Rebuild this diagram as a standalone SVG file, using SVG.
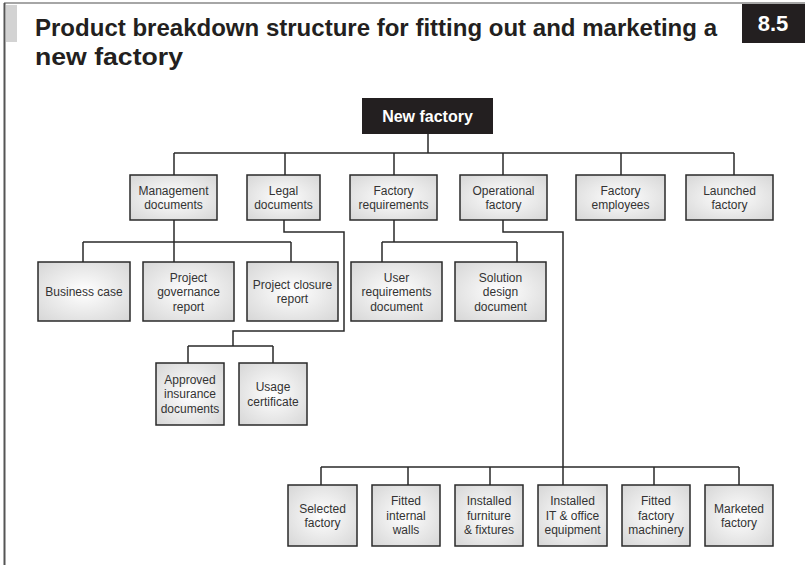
<svg xmlns="http://www.w3.org/2000/svg" width="805" height="565" viewBox="0 0 805 565">
<defs>
<radialGradient id="g" cx="50%" cy="50%" r="70%">
<stop offset="0" stop-color="#ffffff"/>
<stop offset="1" stop-color="#d6d6d6"/>
</radialGradient>
</defs>
<style>
.box{fill:url(#g);stroke:#2a2a2a;stroke-width:1.5}
.lbl{font-family:"Liberation Sans",Arial,sans-serif;font-size:12px;fill:#333;text-anchor:middle}
.con{fill:none;stroke:#2a2a2a;stroke-width:1.5}
.title{font-family:"Liberation Sans",Arial,sans-serif;font-weight:bold;font-size:24px;fill:#231f20}
</style>
<rect x="0" y="0" width="805" height="565" fill="#fff"/>
<line x1="4" y1="3" x2="805" y2="3" stroke="#888" stroke-width="1.5"/>
<line x1="4.5" y1="3" x2="4.5" y2="565" stroke="#555" stroke-width="2"/>
<rect x="6" y="5" width="11" height="37" fill="#d3d3d3"/>
<g id="title">
<text class="title" x="35" y="36" textLength="682" lengthAdjust="spacingAndGlyphs">Product breakdown structure for fitting out and marketing a</text>
<text class="title" x="35" y="65" textLength="148" lengthAdjust="spacingAndGlyphs">new factory</text>
</g>
<g id="badge">
<rect x="742" y="4" width="63" height="39" fill="#231f20"/>
<text x="773" y="31" font-family="Liberation Sans,Arial,sans-serif" font-weight="bold" font-size="22" fill="#fff" text-anchor="middle">8.5</text>
</g>
<g id="connectors">
<path class="con" d="M428 134V153M174 153H734M174 153V175M285 153V175M394 153V175M503 153V175M621 153V175M734 153V175"/>
<path class="con" d="M83 242H291M174 220V262M83 242V262M291 242V262"/>
<path class="con" d="M382 242H517M394 220V242M382 242V262M517 242V262"/>
<path class="con" d="M284 220V232H344V331H233V346M188 346H273M188 346V363M273 346V363"/>
<path class="con" d="M503 220V232H563V485M321 467H739M321 467V485M408 467V485M490 467V485M654 467V485M739 467V485"/>
</g>
<g id="n-root">
<rect x="362" y="98" width="131" height="36" fill="#231f20"/>
<text x="427.5" y="122" font-family="Liberation Sans,Arial,sans-serif" font-weight="bold" font-size="16" fill="#fff" text-anchor="middle">New factory</text>
</g>
<g id="n-mgmt"><rect class="box" x="130" y="175" width="87" height="45"/><text class="lbl" x="173.5" y="194.5">Management</text><text class="lbl" x="173.5" y="209">documents</text></g>
<g id="n-legal"><rect class="box" x="247" y="175" width="73" height="45"/><text class="lbl" x="283.5" y="194.5">Legal</text><text class="lbl" x="283.5" y="209">documents</text></g>
<g id="n-freq"><rect class="box" x="350" y="175" width="87" height="45"/><text class="lbl" x="393.5" y="194.5">Factory</text><text class="lbl" x="393.5" y="209">requirements</text></g>
<g id="n-oper"><rect class="box" x="460" y="175" width="87" height="45"/><text class="lbl" x="503.5" y="194.5">Operational</text><text class="lbl" x="503.5" y="209">factory</text></g>
<g id="n-emp"><rect class="box" x="576" y="175" width="89" height="45"/><text class="lbl" x="620.5" y="194.5">Factory</text><text class="lbl" x="620.5" y="209">employees</text></g>
<g id="n-launch"><rect class="box" x="686" y="175" width="87" height="45"/><text class="lbl" x="729.5" y="194.5">Launched</text><text class="lbl" x="729.5" y="209">factory</text></g>
<g id="n-bcase"><rect class="box" x="38" y="262" width="92" height="59"/><text class="lbl" x="84" y="296">Business case</text></g>
<g id="n-pgov"><rect class="box" x="143" y="262" width="91" height="59"/><text class="lbl" x="188.5" y="281.5">Project</text><text class="lbl" x="188.5" y="296">governance</text><text class="lbl" x="188.5" y="310.5">report</text></g>
<g id="n-pclose"><rect class="box" x="247" y="262" width="91" height="59"/><text class="lbl" x="292.5" y="288.5">Project closure</text><text class="lbl" x="292.5" y="303">report</text></g>
<g id="n-ureq"><rect class="box" x="351" y="262" width="91" height="59"/><text class="lbl" x="396.5" y="281.5">User</text><text class="lbl" x="396.5" y="296">requirements</text><text class="lbl" x="396.5" y="310.5">document</text></g>
<g id="n-sdes"><rect class="box" x="455" y="262" width="91" height="59"/><text class="lbl" x="500.5" y="281.5">Solution</text><text class="lbl" x="500.5" y="296">design</text><text class="lbl" x="500.5" y="310.5">document</text></g>
<g id="n-ins"><rect class="box" x="156" y="363" width="68" height="62"/><text class="lbl" x="190" y="383.5">Approved</text><text class="lbl" x="190" y="398">insurance</text><text class="lbl" x="190" y="412.5">documents</text></g>
<g id="n-usage"><rect class="box" x="239" y="363" width="68" height="62"/><text class="lbl" x="273" y="391">Usage</text><text class="lbl" x="273" y="405.5">certificate</text></g>
<g id="n-sel"><rect class="box" x="288" y="485" width="69" height="61"/><text class="lbl" x="322.5" y="512.5">Selected</text><text class="lbl" x="322.5" y="527">factory</text></g>
<g id="n-walls"><rect class="box" x="372" y="485" width="68" height="61"/><text class="lbl" x="406" y="505">Fitted</text><text class="lbl" x="406" y="519.5">internal</text><text class="lbl" x="406" y="534">walls</text></g>
<g id="n-furn"><rect class="box" x="455" y="485" width="68" height="61"/><text class="lbl" x="489" y="505">Installed</text><text class="lbl" x="489" y="519.5">furniture</text><text class="lbl" x="489" y="534">&amp; fixtures</text></g>
<g id="n-it"><rect class="box" x="538" y="485" width="69" height="61"/><text class="lbl" x="572.5" y="505">Installed</text><text class="lbl" x="572.5" y="519.5">IT &amp; office</text><text class="lbl" x="572.5" y="534">equipment</text></g>
<g id="n-mach"><rect class="box" x="622" y="485" width="68" height="61"/><text class="lbl" x="656" y="505">Fitted</text><text class="lbl" x="656" y="519.5">factory</text><text class="lbl" x="656" y="534">machinery</text></g>
<g id="n-mkt"><rect class="box" x="705" y="485" width="68" height="61"/><text class="lbl" x="739" y="512.5">Marketed</text><text class="lbl" x="739" y="527">factory</text></g>
</svg>
